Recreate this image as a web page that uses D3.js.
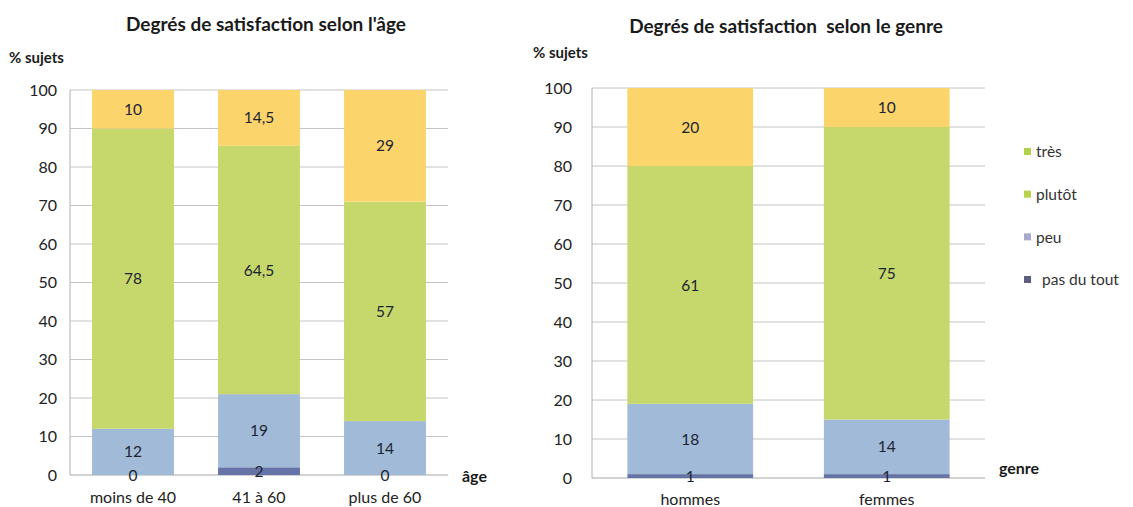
<!DOCTYPE html>
<html>
<head>
<meta charset="utf-8">
<script src="https://cdn.jsdelivr.net/npm/d3@7"></script>
<style>
  html, body { margin: 0; padding: 0; background: #fff; }
  svg { display: block; font-family: Lato, "Open Sans", sans-serif; }
</style>
</head>
<body>
<svg id="chart" width="1133" height="507"></svg>
<script>
// Satisfaction levels, stacked from the bottom up
const levels = ["pas du tout", "peu", "plutôt", "très"];
const levelColors = ["#6673a6", "#a1bad7", "#c6d86c", "#fbd46c"];
const legendColors = ["#5e5e7e", "#a9a9c9", "#b8d24e", "#b3d24a"];

// Age groups
const ageGroups = ["moins de 40", "41 à 60", "plus de 60"];
const agePasDuTout = [0, 2, 0];
const agePeu = [12, 19, 14];
const agePlutot = [78, 64.5, 57];
const ageTres = [10, 14.5, 29];

// Gender groups
const genres = ["hommes", "femmes"];
const genrePasDuTout = [1, 1];
const genrePeu = [18, 14];
const genrePlutot = [61, 75];
const genreTres = [20, 10];

const yTicks = [0, 10, 20, 30, 40, 50, 60, 70, 80, 90, 100];

const svg = d3.select("#chart");
const fmt = v => String(v).replace(".", ",");

function drawPanel(opt) {
  const g = svg.append("g");
  const x = d3.scaleBand().domain(opt.cats).range([opt.x0, opt.x1])
    .paddingInner(opt.pad).paddingOuter(opt.pad / 2);
  const y = d3.scaleLinear().domain([0, 100]).range([opt.y0, opt.y1]);

  // horizontal gridlines
  g.selectAll("line.grid").data(yTicks).join("line")
    .attr("x1", opt.x0).attr("x2", opt.x1)
    .attr("y1", d => y(d)).attr("y2", d => y(d))
    .attr("stroke", d => d === 0 ? "#a6a6a6" : "#c4c4c4").attr("stroke-width", 1);
  // vertical axis line
  g.append("line").attr("x1", opt.x0).attr("x2", opt.x0)
    .attr("y1", y(0)).attr("y2", y(100)).attr("stroke", "#b0b0b0");

  // tick labels
  const axis = d3.axisLeft(y).tickValues(yTicks).tickSize(0).tickPadding(opt.tickPad);
  const ag = g.append("g").attr("transform", `translate(${opt.x0},0)`).call(axis);
  ag.select(".domain").remove();
  ag.selectAll("text").attr("font-size", 16).attr("fill", "#222")
    .attr("font-family", "Lato, sans-serif");

  // stacked data
  const rows = opt.cats.map((c, i) => {
    const r = { cat: c };
    levels.forEach((l, k) => r[l] = opt.series[k][i]);
    return r;
  });
  const stacked = d3.stack().keys(levels)(rows);

  stacked.forEach((layer, k) => {
    g.selectAll(null).data(layer).join("rect")
      .attr("x", d => x(d.data.cat))
      .attr("width", x.bandwidth())
      .attr("y", d => y(d[1]))
      .attr("height", d => y(d[0]) - y(d[1]))
      .attr("fill", levelColors[k]);
  });
  stacked.forEach((layer, k) => {
    g.selectAll(null).data(layer).join("text")
      .attr("x", d => x(d.data.cat) + x.bandwidth() / 2)
      .attr("y", d => y((d[0] + d[1]) / 2))
      .attr("dy", "0.36em")
      .attr("text-anchor", "middle")
      .attr("font-size", 15.5).attr("fill", "#1c2433")
      .text(d => fmt(d.data[levels[k]]));
  });

  // category labels
  g.selectAll(null).data(opt.cats).join("text")
    .attr("x", d => x(d) + x.bandwidth() / 2)
    .attr("y", opt.catY)
    .attr("text-anchor", "middle").attr("font-size", 16).attr("fill", "#222")
    .text(d => d);

  // titles
  g.append("text").attr("x", opt.titleX).attr("y", opt.titleY)
    .attr("text-anchor", "middle").attr("font-size", opt.titleSize).attr("font-weight", "bold")
    .attr("fill", "#1a1a1a").attr("xml:space", "preserve").text(opt.title);
  g.append("text").attr("x", opt.unitX).attr("y", opt.unitY)
    .attr("font-size", 15).attr("font-weight", "bold").attr("fill", "#1a1a1a")
    .text("% sujets");
  g.append("text").attr("x", opt.xTitleX).attr("y", opt.xTitleY)
    .attr("font-size", 16).attr("font-weight", "bold").attr("fill", "#1a1a1a")
    .text(opt.xTitle);
}

drawPanel({
  cats: ageGroups,
  series: [agePasDuTout, agePeu, agePlutot, ageTres],
  x0: 70, x1: 448, y0: 475, y1: 90, pad: 0.35, tickPad: 13,
  catY: 503, title: "Degrés de satisfaction selon l'âge", titleSize: 19, titleX: 266, titleY: 31,
  unitX: 9, unitY: 63, xTitle: "âge", xTitleX: 462, xTitleY: 482
});

drawPanel({
  cats: genres,
  series: [genrePasDuTout, genrePeu, genrePlutot, genreTres],
  x0: 592, x1: 985, y0: 478, y1: 88, pad: 0.36, tickPad: 20,
  catY: 505, title: "Degrés de satisfaction  selon le genre", titleSize: 19, titleX: 786, titleY: 33,
  unitX: 533, unitY: 58, xTitle: "genre", xTitleX: 999, xTitleY: 474
});

// legend, top entry first
const legendOrder = [3, 2, 1, 0];
const lg = svg.append("g");
const ly = d3.scalePoint().domain(legendOrder).range([152, 280]);
legendOrder.forEach(k => {
  lg.append("rect").attr("x", 1024).attr("y", ly(k) - 4).attr("width", 7).attr("height", 7)
    .attr("fill", legendColors[k]);
  lg.append("text").attr("x", k === 0 ? 1042 : 1036).attr("y", ly(k)).attr("dy", "0.35em")
    .attr("font-size", 15.5).attr("fill", "#333").text(levels[k]);
});
</script>
</body>
</html>
